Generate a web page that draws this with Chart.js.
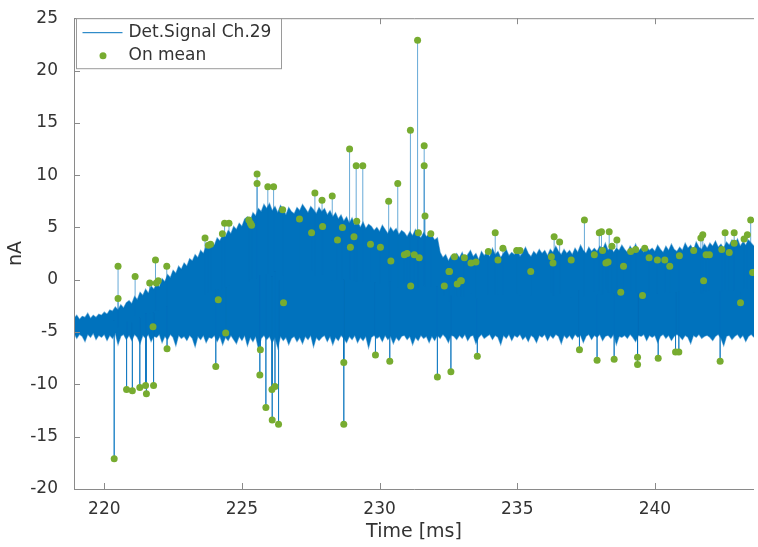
<!DOCTYPE html>
<html>
<head>
<meta charset="utf-8">
<script src="https://cdn.jsdelivr.net/npm/chart.js@4.4.1/dist/chart.umd.min.js"></script>
<style>
  body { margin: 0; background: #fff; }
  #wrap { width: 758px; height: 547px; }
</style>
</head>
<body>
<div id="wrap"><canvas id="myChart" width="758" height="547"></canvas></div>
<script>
// signal envelope, one pair per 0.1 ms starting at 218.9 ms
const sigStart = 218.9
const sigStep = 0.1
const sigHigh = [
  -3.7,-3.4,-3.8,-3.5,-3.6,-3.2,-3.7,-3.4,-3.6,-3.3,
  -3.4,-3.1,-3.3,-2.9,-3.0,-2.6,-2.9,-2.4,-2.7,-2.2,
  -2.0,-2.3,-1.6,-1.9,-1.2,-1.5,-0.9,-1.3,-0.6,-0.9,
  -0.4,-0.7,0.1,-0.2,0.5,0.2,0.9,0.6,1.3,1.0,
  1.6,1.3,2.0,1.8,2.4,2.1,2.8,2.5,3.2,3.0,
  3.6,3.3,4.0,3.7,4.3,4.1,4.7,4.4,5.1,4.8,
  5.4,5.1,5.8,6.0,5.6,6.4,6.1,6.8,6.5,7.2,
  6.8,7.3,6.6,7.0,6.4,7.1,6.7,6.2,6.9,6.5,
  6.3,6.9,6.6,7.2,6.8,6.4,7.0,6.7,6.3,6.9,
  6.5,6.8,6.2,6.6,6.0,6.4,5.8,6.2,5.6,6.0,
  5.4,5.9,5.2,5.6,5.0,5.5,4.9,5.3,5.1,4.7,
  5.0,4.6,5.2,4.8,4.4,5.0,4.6,4.9,4.3,4.7,
  4.5,4.1,4.6,4.2,4.8,4.3,4.0,4.5,4.1,4.4,
  4.2,3.8,4.0,2.6,2.1,2.4,1.8,2.3,2.0,2.5,
  2.1,2.6,1.9,2.4,2.8,2.2,2.5,1.9,2.7,2.3,
  2.6,2.2,3.0,2.4,2.7,2.1,2.5,2.9,2.3,2.6,
  2.4,2.8,2.2,2.6,3.1,2.5,2.2,2.7,2.4,2.9,
  2.5,2.8,2.3,2.9,2.6,3.2,2.7,2.4,2.9,2.5,
  2.8,2.4,3.0,2.6,3.3,2.8,2.5,3.1,2.7,3.0,
  2.7,3.2,2.9,3.5,2.8,3.1,2.6,3.0,2.8,3.3,
  2.9,2.6,3.2,2.8,3.4,2.7,3.0,2.6,3.1,2.8,
  3.0,2.7,3.3,2.9,2.6,3.2,2.8,3.4,2.9,2.7,
  3.1,2.8,3.5,3.0,3.3,2.8,3.6,3.1,2.9,3.4,
  3.0,3.5,3.2,3.7,3.1,3.4,3.0,3.6,3.3,3.8,
  3.4,3.9,3.2,3.6,3.3,3.8,3.5,3.2,3.7,3.4
]
const sigLow = [
  -5.1,-5.6,-5.2,-5.4,-5.9,-5.2,-5.5,-5.1,-5.7,-5.3,
  -5.5,-5.2,-5.8,-5.3,-5.6,-5.1,-6.2,-5.4,-5.2,-5.7,
  -5.3,-5.8,-5.2,-5.5,-6.1,-5.3,-5.6,-5.2,-5.9,-5.4,
  -5.5,-5.2,-6.0,-5.4,-5.7,-5.2,-5.5,-6.3,-5.3,-5.6,
  -5.4,-5.8,-5.3,-5.6,-6.4,-5.4,-5.7,-5.3,-6.0,-5.5,
  -5.6,-5.3,-5.9,-5.4,-6.2,-5.5,-5.8,-5.3,-5.7,-6.1,
  -5.4,-5.8,-5.3,-6.3,-5.5,-5.9,-5.4,-6.6,-5.6,-5.3,
  -5.7,-5.4,-6.0,-5.5,-6.5,-5.4,-5.8,-5.5,-6.2,-5.6,
  -5.4,-5.9,-5.5,-6.1,-5.4,-5.7,-5.3,-6.4,-5.5,-5.8,
  -5.5,-5.3,-5.9,-5.4,-6.2,-5.5,-5.8,-5.3,-5.6,-6.0,
  -5.4,-5.7,-5.3,-6.0,-5.5,-5.8,-5.4,-6.5,-5.5,-5.3,
  -5.6,-5.4,-5.9,-5.3,-5.7,-5.4,-6.1,-5.5,-5.8,-5.4,
  -5.3,-5.7,-5.4,-6.2,-5.5,-5.8,-5.3,-5.6,-5.4,-6.0,
  -5.4,-5.8,-5.3,-5.6,-5.2,-5.5,-6.0,-5.3,-5.4,-5.7,
  -5.3,-5.6,-5.2,-5.8,-5.4,-5.3,-6.1,-5.5,-5.2,-5.6,
  -5.4,-5.2,-5.7,-5.3,-5.5,-6.2,-5.3,-5.6,-5.2,-5.8,
  -5.3,-5.5,-5.2,-5.7,-5.4,-5.9,-5.3,-5.5,-6.0,-5.3,
  -5.5,-5.2,-5.8,-5.3,-5.6,-5.2,-5.4,-6.1,-5.3,-5.6,
  -5.3,-5.7,-5.2,-5.5,-5.3,-6.0,-5.4,-5.2,-5.7,-5.3,
  -5.5,-5.2,-5.8,-5.4,-5.3,-5.6,-5.2,-6.2,-5.4,-5.5,
  -5.3,-5.6,-5.2,-5.5,-5.9,-5.3,-5.4,-5.2,-5.8,-5.3,
  -5.5,-5.3,-6.0,-5.4,-5.2,-5.6,-5.3,-5.8,-5.4,-5.2,
  -5.4,-5.7,-5.3,-5.5,-6.1,-5.3,-5.5,-5.2,-5.6,-5.4,
  -5.3,-5.5,-5.8,-5.4,-5.2,-5.6,-6.3,-5.4,-5.3,-5.7,
  -5.4,-5.2,-5.6,-5.3,-5.9,-5.4,-5.2,-5.5,-5.3,-5.6
]

// "On mean" points (time in ms, value in nA)
const meanTime = [
  220.36,220.50,220.50,220.81,221.02,221.12,221.29,221.50,221.53,221.65,
  221.77,221.79,221.86,221.89,221.96,222.27,222.28,223.66,223.78,223.86,
  224.05,224.14,224.29,224.37,224.41,224.53,225.25,225.31,225.35,225.55,
  225.55,225.65,225.67,225.87,225.94,226.09,226.10,226.15,226.20,226.33,
  226.48,226.51,227.09,227.53,227.65,227.91,227.93,228.28,228.47,228.65,
  228.70,228.70,228.91,228.94,229.07,229.15,229.17,229.39,229.67,229.85,
  230.03,230.33,230.37,230.41,230.66,230.90,231.00,231.12,231.13,231.26,
  231.38,231.41,231.44,231.62,231.62,231.65,231.86,232.10,232.35,232.52,
  232.54,232.59,232.72,232.82,232.94,232.97,233.08,233.32,233.50,233.55,
  233.95,234.20,234.30,234.48,234.98,235.10,235.49,236.24,236.30,236.34,
  236.54,236.96,237.26,237.44,237.80,237.90,237.98,238.06,238.10,238.22,
  238.30,238.34,238.44,238.52,238.62,238.76,238.86,239.12,239.30,239.37,
  239.37,239.55,239.63,239.79,240.09,240.12,240.36,240.54,240.75,240.87,
  240.89,241.41,241.67,241.74,241.77,241.86,241.98,242.37,242.43,242.55,
  242.70,242.88,242.88,243.11,243.24,243.36,243.48,243.55
]
const meanValue = [
  -17.1,1.3,-1.8,-10.5,-10.6,0.3,-10.3,-10.1,-10.9,-0.3,
  -4.5,-10.1,1.9,-0.3,-0.1,1.3,-6.6,4.0,3.3,3.4,
  -8.3,-1.9,4.4,5.4,-5.1,5.4,5.7,5.4,5.2,10.1,
  9.2,-9.1,-6.7,-12.2,8.9,-10.5,-13.4,8.9,-10.2,-13.8,
  6.7,-2.2,5.8,4.5,8.3,7.6,5.1,8.0,3.8,5.0,
  -7.9,-13.8,12.5,3.1,4.1,10.9,5.6,10.9,3.4,-7.2,
  3.1,7.5,-7.8,1.8,9.2,2.4,2.5,14.3,-0.6,2.4,
  22.9,4.5,2.1,12.8,10.9,6.1,4.4,-9.3,-0.6,0.8,
  0.8,-8.8,2.2,-0.4,-0.1,-0.1,2.1,1.6,1.7,-7.3,
  2.7,4.5,1.9,3.0,2.8,2.8,0.8,2.2,1.6,4.1,
  3.6,1.9,-6.7,5.7,2.4,-7.7,4.5,4.6,2.8,1.6,
  1.7,4.6,3.2,-7.6,3.8,-1.2,1.3,2.7,2.9,-7.4,
  -8.1,-1.5,3.0,2.1,1.9,-7.5,1.9,1.3,-6.9,-6.9,
  2.3,2.8,4.0,4.3,-0.1,2.4,2.4,-7.8,2.9,4.5,
  2.6,4.5,3.5,-2.2,3.9,4.3,5.7,0.7
]

const xTicks = [220, 225, 230, 235, 240]
const yTicks = [-20, -15, -10, -5, 0, 5, 10, 15, 20, 25]

const blue = 'rgb(0, 114, 189)'
const blueEdge = 'rgba(0, 114, 189, 0.55)'
const green = 'rgb(119, 172, 48)'
const axisGrey = '#8a8a8a'
const textCol = '#333333'

let highPts = sigHigh.map((v, i) => ({ x: sigStart + i * sigStep, y: v }))
let lowPts = sigLow.map((v, i) => ({ x: sigStart + i * sigStep, y: v }))

// vertical strokes from the band up/down to each "On mean" point
let spikePts = []
meanTime.forEach((t, i) => {
    let k = Math.min(sigHigh.length - 1, Math.max(0, Math.round((t - sigStart) / sigStep)))
    let mid = (sigHigh[k] + sigLow[k]) / 2
    spikePts.push({ x: t, y: mid }, { x: t, y: meanValue[i] }, { x: t, y: null })
})
let meanPts = meanTime.map((t, i) => ({ x: t, y: meanValue[i] }))

const boxTicks = {
    id: 'boxTicks',
    afterDraw(chart) {
        const { ctx, chartArea: a, scales } = chart
        ctx.save()
        ctx.strokeStyle = axisGrey
        ctx.lineWidth = 1
        ctx.beginPath()
        ctx.moveTo(a.left + 0.5, a.bottom + 0.5)
        ctx.lineTo(a.left + 0.5, a.top + 0.5)
        ctx.lineTo(a.right, a.top + 0.5)
        ctx.moveTo(a.left + 0.5, a.bottom + 0.5)
        ctx.lineTo(a.right, a.bottom + 0.5)
        xTicks.forEach((t) => {
            let px = Math.round(scales.x.getPixelForValue(t)) + 0.5
            ctx.moveTo(px, a.bottom); ctx.lineTo(px, a.bottom - 6)
            ctx.moveTo(px, a.top); ctx.lineTo(px, a.top + 6)
        })
        yTicks.forEach((v) => {
            let py = Math.round(scales.y.getPixelForValue(v)) + 0.5
            ctx.moveTo(a.left, py); ctx.lineTo(a.left + 6, py)
        })
        ctx.stroke()

        // legend box
        let lx = a.left + 2.5, ly = a.top + 0.5
        ctx.fillStyle = '#ffffff'
        ctx.fillRect(lx, ly, 205, 50)
        ctx.strokeStyle = '#9a9a9a'
        ctx.strokeRect(lx, ly, 205, 50)
        ctx.strokeStyle = blue
        ctx.beginPath()
        ctx.moveTo(lx + 6, ly + 14); ctx.lineTo(lx + 46, ly + 14)
        ctx.stroke()
        ctx.fillStyle = green
        ctx.beginPath()
        ctx.arc(lx + 26.5, ly + 37, 3.5, 0, Math.PI * 2)
        ctx.fill()
        ctx.fillStyle = textCol
        ctx.font = '17px "DejaVu Sans"'
        ctx.textBaseline = 'middle'
        ctx.fillText('Det.Signal Ch.29', lx + 52, ly + 14)
        ctx.fillText('On mean', lx + 52, ly + 37)
        ctx.restore()
    }
}

const config = {
    type: 'line',
    data: {
        datasets: [
            {
                label: 'On mean',
                data: meanPts,
                showLine: false,
                pointRadius: 3.5,
                pointBackgroundColor: green,
                pointBorderWidth: 0,
                order: 1
            },
            {
                label: 'spikes',
                data: spikePts,
                borderColor: 'rgba(0, 114, 189, 0.6)',
                borderWidth: 1,
                pointRadius: 0,
                spanGaps: false,
                order: 2
            },
            {
                label: 'Det.Signal Ch.29',
                data: highPts,
                borderColor: blueEdge,
                backgroundColor: blue,
                borderWidth: 1.2,
                pointRadius: 0,
                fill: '+1',
                order: 3
            },
            {
                label: 'low',
                data: lowPts,
                borderColor: blueEdge,
                borderWidth: 1.2,
                pointRadius: 0,
                fill: false,
                order: 4
            }
        ]
    },
    options: {
        responsive: false,
        animation: false,
        layout: { padding: { left: 0, top: 10, right: 0, bottom: 0 } },
        plugins: {
            legend: { display: false },
            tooltip: { enabled: false }
        },
        scales: {
            x: {
                type: 'linear',
                min: 218.9,
                max: 243.6,
                afterFit: (s) => { s.height = 58 },
                afterBuildTicks: (s) => { s.ticks = xTicks.map((v) => ({ value: v })) },
                grid: { display: false },
                border: { display: false },
                ticks: { color: textCol, font: { family: 'DejaVu Sans', size: 17 }, padding: 2 },
                title: { display: true, text: 'Time [ms]', color: textCol, font: { family: 'DejaVu Sans', size: 19 }, padding: { top: 0 } }
            },
            y: {
                min: -20,
                max: 25,
                afterFit: (s) => { s.width = 74 },
                afterBuildTicks: (s) => { s.ticks = yTicks.map((v) => ({ value: v })) },
                grid: { display: false },
                border: { display: false },
                ticks: { color: textCol, font: { family: 'DejaVu Sans', size: 17 }, padding: 8 },
                title: { display: true, text: 'nA', color: textCol, font: { family: 'DejaVu Sans', size: 19 }, padding: { top: 5, bottom: 0 } }
            }
        }
    },
    plugins: [boxTicks]
}

const ctx = document.getElementById('myChart')
new Chart(ctx, config)
</script>
</body>
</html>
